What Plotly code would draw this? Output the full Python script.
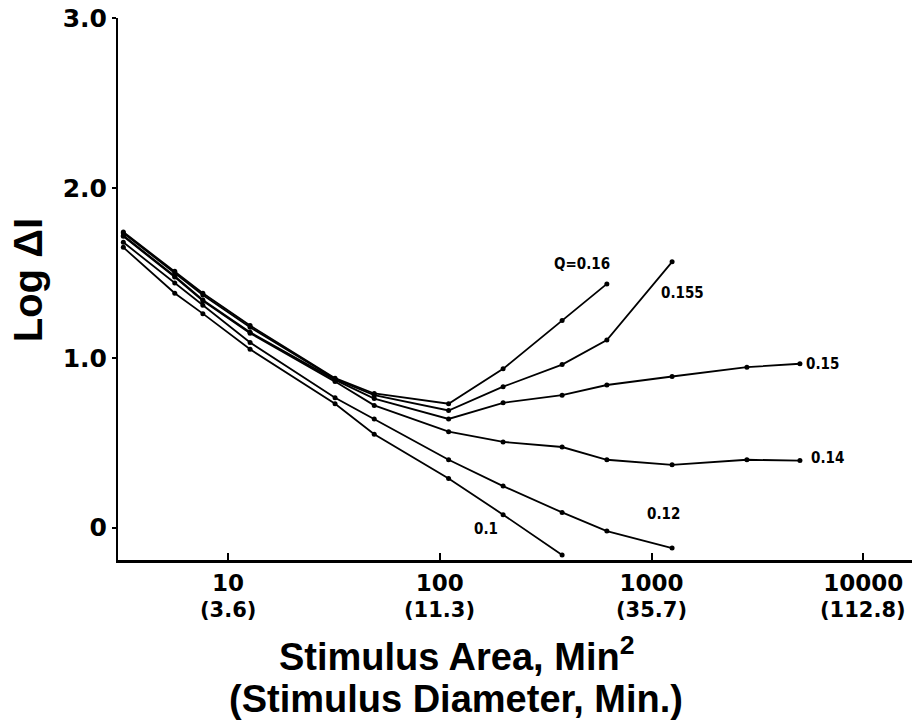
import numpy as np
import plotly.graph_objects as go

# Stimulus areas (min^2)
x_all = [3.2, 5.6, 7.6, 12.7, 32, 49, 110, 199, 378, 615, 1250, 2820, 5020]

series = {
    "0.16":  [1.74, 1.51, 1.38, 1.19, 0.88, 0.79, 0.73, 0.935, 1.22, 1.435],
    "0.155": [1.735, 1.50, 1.37, 1.18, 0.875, 0.78, 0.69, 0.83, 0.96, 1.105, 1.565],
    "0.15":  [1.72, 1.48, 1.34, 1.15, 0.87, 0.76, 0.64, 0.735, 0.78, 0.84, 0.89, 0.945, 0.965],
    "0.14":  [1.715, 1.475, 1.335, 1.145, 0.86, 0.72, 0.565, 0.505, 0.475, 0.40, 0.37, 0.40, 0.395],
    "0.12":  [1.68, 1.44, 1.31, 1.09, 0.765, 0.64, 0.40, 0.245, 0.09, -0.02, -0.12],
    "0.1":   [1.65, 1.38, 1.26, 1.05, 0.73, 0.55, 0.29, 0.077, -0.16],
}

label_text = ["Q=0.16", "0.155", "0.15", "0.14", "0.12", "0.1"]
label_x = [470, 1400, 6400, 6760, 1135, 166]
label_y = [1.55, 1.38, 0.965, 0.41, 0.08, -0.01]

tick_vals = [10, 100, 1000, 10000]
tick_text = ["10", "100", "1000", "10000"]
diam_text = ["(3.6)", "(11.3)", "(35.7)", "(112.8)"]

y_ticks = [0, 1, 2, 3]
y_tick_text = ["0", "1.0", "2.0", "3.0"]

fig = go.Figure()
for name, ys in series.items():
    fig.add_trace(go.Scatter(
        x=x_all[:len(ys)], y=ys, mode="lines+markers", name=name,
        line=dict(color="black", width=1.8),
        marker=dict(color="black", size=5),
        showlegend=False,
    ))

title_font = "Liberation Sans, Arial, sans-serif"
tick_font = "DejaVu Sans, sans-serif"
narrow = "Liberation Sans Narrow, Arial Narrow, DejaVu Sans Condensed, sans-serif"

annotations = []
for t, lx, ly in zip(label_text, label_x, label_y):
    annotations.append(dict(
        x=np.log10(lx), y=ly, xref="x", yref="y", text="<b>" + t + "</b>",
        showarrow=False, font=dict(family=narrow, size=15, color="black"),
        xanchor="center", yanchor="middle",
    ))
for tv, dt in zip(tick_vals, diam_text):
    annotations.append(dict(
        x=np.log10(tv), y=-0.092, xref="x", yref="paper", text="<b>" + dt + "</b>",
        showarrow=False, font=dict(family=tick_font, size=21, color="black"),
        xanchor="center", yanchor="middle",
    ))
annotations.append(dict(
    x=0.4257, y=-0.173, xref="paper", yref="paper",
    text="<b>Stimulus Area, Min<sup>2</sup></b>", showarrow=False,
    font=dict(family=title_font, size=38, color="black"), xanchor="center", yanchor="middle",
))
annotations.append(dict(
    x=0.4257, y=-0.256, xref="paper", yref="paper",
    text="<b>(Stimulus Diameter, Min.)</b>", showarrow=False,
    font=dict(family=title_font, size=38, color="black"), xanchor="center", yanchor="middle",
))
annotations.append(dict(
    x=-0.113, y=0.5166, xref="paper", yref="paper",
    text="<b>Log ΔI</b>", showarrow=False, textangle=-90,
    font=dict(family=title_font, size=40, color="black"), xanchor="center", yanchor="middle",
))

fig.update_layout(
    width=917, height=720,
    margin=dict(l=118, r=5, t=18, b=160),
    paper_bgcolor="white", plot_bgcolor="white",
    annotations=annotations,
    xaxis=dict(
        type="log", range=[0.48, 4.23],
        tickvals=tick_vals, ticktext=["<b>" + t + "</b>" for t in tick_text],
        ticks="inside", ticklen=7, tickwidth=2, tickcolor="black",
        showline=True, linecolor="black", linewidth=3,
        showgrid=False, zeroline=False,
        tickfont=dict(family=tick_font, size=23, color="black"),
    ),
    yaxis=dict(
        range=[-0.19, 3.0],
        tickvals=y_ticks, ticktext=["<b>" + t + "</b>" for t in y_tick_text],
        ticks="outside", ticklen=4, tickwidth=2, tickcolor="black",
        showline=True, linecolor="black", linewidth=2,
        showgrid=False, zeroline=False,
        tickfont=dict(family=tick_font, size=25, color="black"),
    ),
)

fig.write_html("out.html")
